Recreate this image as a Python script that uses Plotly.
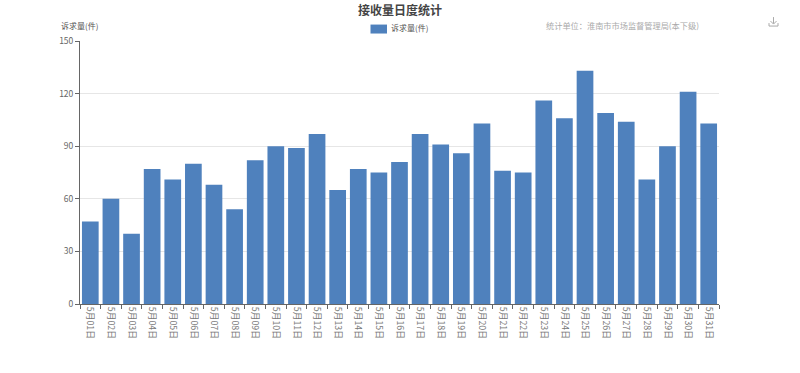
import plotly.graph_objects as go

days = [f"5月{d:02d}日" for d in range(1, 32)]
values = [47, 60, 40, 77, 71, 80, 68, 54, 82, 90, 89, 97, 65, 77, 75, 81, 97, 91, 86, 103,
          76, 75, 116, 106, 133, 109, 104, 71, 90, 121, 103]
series_name = "诉求量(件)"
y_ticks = [0, 30, 60, 90, 120, 150]
title_text = "接收量日度统计"
unit_note = "统计单位：淮南市市场监督管理局(本下级)"

W, H = 800, 373
L, R, T, B = 80, 719, 40.5, 304.5
FONT = "Noto Sans CJK SC"


def px(x):
    return (x - L) / (R - L)


def py(y):
    return (B - y) / (B - T)


fig = go.Figure(go.Bar(x=days, y=values, name=series_name, marker=dict(color="#4f81bd", line=dict(width=0)),
                       showlegend=False))

annotations = [
    dict(text=f"<b>{title_text}</b>", x=px(400), y=py(8.5), xref="paper", yref="paper", showarrow=False,
         xanchor="center", yanchor="middle", font=dict(size=12, color="#444", family=FONT)),
    dict(text=series_name, x=px(59), y=py(25), xref="paper", yref="paper", showarrow=False,
         xanchor="left", yanchor="middle", font=dict(size=8, color="#555", family=FONT)),
    dict(text=series_name, x=px(389), y=py(27), xref="paper", yref="paper", showarrow=False,
         xanchor="left", yanchor="middle", font=dict(size=8, color="#555", family=FONT)),
    dict(text=unit_note, x=px(701), y=py(24.5), xref="paper", yref="paper", showarrow=False,
         xanchor="right", yanchor="middle", font=dict(size=8.2, color="#aaa", family=FONT)),
]

shapes = [
    dict(type="rect", xref="paper", yref="paper", x0=px(370.5), x1=px(387), y0=py(33), y1=py(24),
         fillcolor="#4f81bd", line=dict(width=0)),
    dict(type="path", xref="paper", yref="paper",
         path=f"M {px(773.5)} {py(16.5)} L {px(773.5)} {py(23)} M {px(770.5)} {py(20.5)} L {px(773.5)} {py(23.5)} "
              f"L {px(776.5)} {py(20.5)} M {px(769)} {py(22.5)} L {px(769)} {py(25.5)} L {px(778)} {py(25.5)} "
              f"L {px(778)} {py(22.5)}",
         line=dict(color="#aaa", width=1)),
]

fig.update_layout(
    width=W, height=H, autosize=False,
    margin=dict(l=L, r=W - R, t=T, b=H - B),
    paper_bgcolor="white", plot_bgcolor="white",
    bargap=0.19,
    font=dict(family=FONT, size=9, color="#666"),
    annotations=annotations, shapes=shapes,
    xaxis=dict(type="category", tickson="boundaries", ticks="outside", ticklen=4, tickcolor="#666",
               tickangle=90, showgrid=False, showline=True, linecolor="#666", linewidth=1,
               tickfont=dict(size=8.8, color="#777", family=FONT), categoryorder="array", categoryarray=days),
    yaxis=dict(range=[0, 150], tickmode="array", tickvals=y_ticks, ticks="outside", ticklen=4, tickcolor="#666",
               showline=True, linecolor="#666", linewidth=1, gridcolor="#e6e6e6", gridwidth=1, zeroline=False,
               tickfont=dict(size=8.5, color="#666", family=FONT)),
)

fig.write_html("out.html", config=dict(displayModeBar=False),
               post_script="document.body.style.margin='0';document.documentElement.style.overflow='hidden';")
